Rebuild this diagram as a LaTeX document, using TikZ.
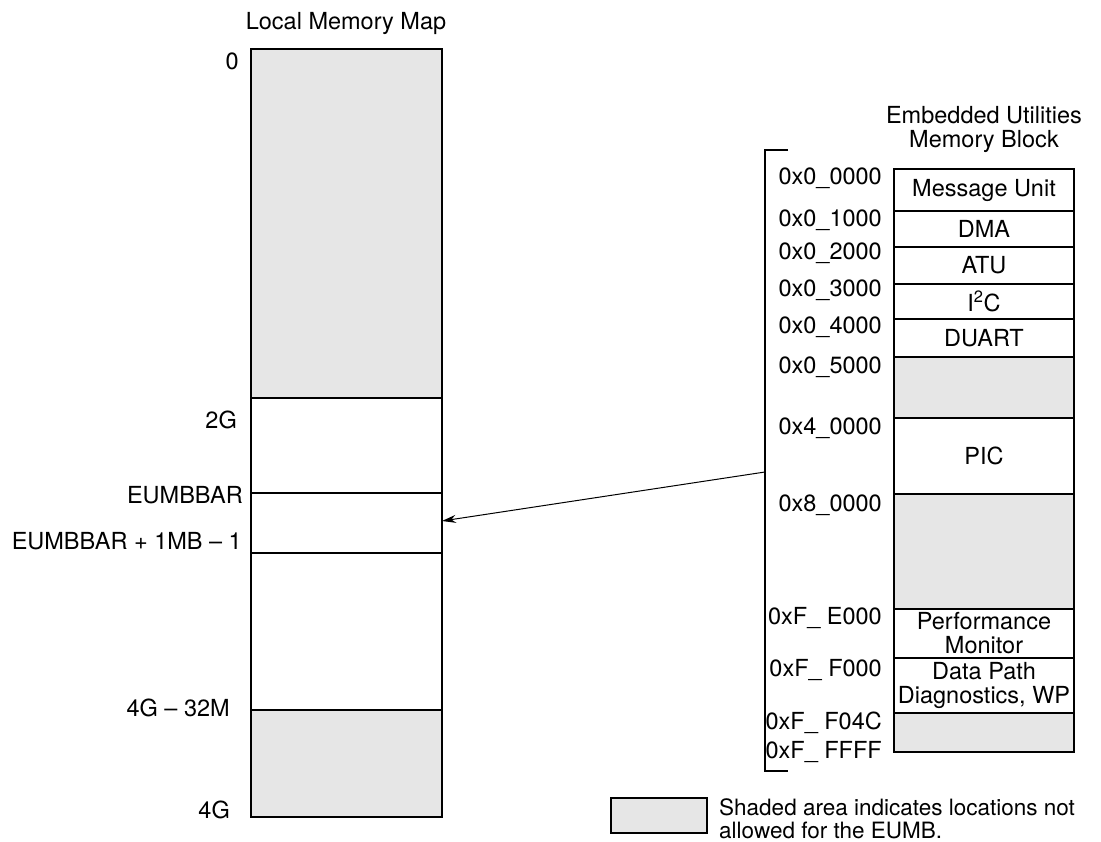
\documentclass[tikz,border=0pt]{standalone}
\usepackage{fontspec}
\setmainfont{TeX Gyre Heros}
\usetikzlibrary{arrows.meta}
\definecolor{shade}{HTML}{E6E6E6}
\begin{document}
\begin{tikzpicture}[x=1pt,y=-1pt,
  every node/.style={font=\fontsize{23.5}{24}\selectfont},
  region/.style={draw,line width=2pt,inner sep=0pt,outer sep=0pt,anchor=north west,align=center},
  lwide/.style={region,minimum width=191pt},
  rwide/.style={region,minimum width=180pt},
  lbl/.style={inner sep=0pt,anchor=east},
  ttl/.style={inner sep=0pt,align=center},
  legline/.style={inner sep=0pt,anchor=base west,font=\fontsize{22.5}{23}\selectfont},
  bracket/.style={line width=2pt},
  pointer/.style={line width=1pt,-{Stealth[length=14pt,width=8pt]}}
]
\useasboundingbox (0,0) rectangle (1101,842);

% Local memory map
\node[ttl] (ltitle) at (346,23) {Local Memory Map};
\node[lwide,fill=shade,minimum height=349pt] (L1) at (251,49) {};
\node[lwide,minimum height=95pt] (L2) at (251,398) {};
\node[lwide,minimum height=60pt] (L3) at (251,493) {};
\node[lwide,minimum height=157pt] (L4) at (251,553) {};
\node[lwide,fill=shade,minimum height=107pt] (L5) at (251,710) {};

\node[lbl] (l0) at (239,61) {0};
\node[lbl] (l2g) at (237,420) {2G};
\node[lbl] (leb) at (243,495) {EUMBBAR};
\node[lbl] (lebe) at (242,541) {EUMBBAR + 1MB – 1};
\node[lbl] (l4g32) at (230,708) {4G – 32M};
\node[lbl] (l4g) at (230,810) {4G};

% Embedded utilities memory block
\node[ttl] (rtitle) at (984,129) {Embedded Utilities\\Memory Block};
\node[rwide,minimum height=42pt] (R1) at (894,169) {Message Unit};
\node[rwide,minimum height=36pt] (R2) at (894,211) {DMA};
\node[rwide,minimum height=37pt] (R3) at (894,247) {ATU};
\node[rwide,minimum height=35pt] (R4) at (894,284) {I\textsuperscript{2}C};
\node[rwide,minimum height=38pt] (R5) at (894,319) {DUART};
\node[rwide,fill=shade,minimum height=61pt] (R6) at (894,357) {};
\node[rwide,minimum height=76pt] (R7) at (894,418) {PIC};
\node[rwide,fill=shade,minimum height=115pt] (R8) at (894,494) {};
\node[rwide,minimum height=49pt] (R9) at (894,609) {Performance\\Monitor};
\node[rwide,minimum height=55pt] (R10) at (894,658) {Data Path\\Diagnostics, WP};
\node[rwide,fill=shade,minimum height=39pt] (R11) at (894,713) {};

\node[lbl] (a0) at (882,178) {0x0\_0000};
\node[lbl] (a1) at (882,220) {0x0\_1000};
\node[lbl] (a2) at (882,253) {0x0\_2000};
\node[lbl] (a3) at (882,290) {0x0\_3000};
\node[lbl] (a4) at (882,327) {0x0\_4000};
\node[lbl] (a5) at (882,367) {0x0\_5000};
\node[lbl] (a6) at (882,428) {0x4\_0000};
\node[lbl] (a7) at (882,505) {0x8\_0000};
\node[lbl] (a8) at (882,618) {0xF\_ E000};
\node[lbl] (a9) at (882,670) {0xF\_ F000};
\node[lbl] (a10) at (882,723) {0xF\_ F04C};
\node[lbl] (a11) at (882,752) {0xF\_ FFFF};

% bracket and pointer
\draw[bracket] (788,150) -- (765,150) -- (765,771) -- (788,771);
\coordinate (src) at (765,472);
\draw[pointer] (src) -- ([yshift=2pt]L3.east);

% legend
\node[region,fill=shade,minimum width=96pt,minimum height=35pt] (leg) at (611,798) {};
\node[legline] (legtext1) at (719,815) {Shaded area indicates locations not};
\node[legline] (legtext2) at (719,838) {allowed for the EUMB.};
\end{tikzpicture}
\end{document}
